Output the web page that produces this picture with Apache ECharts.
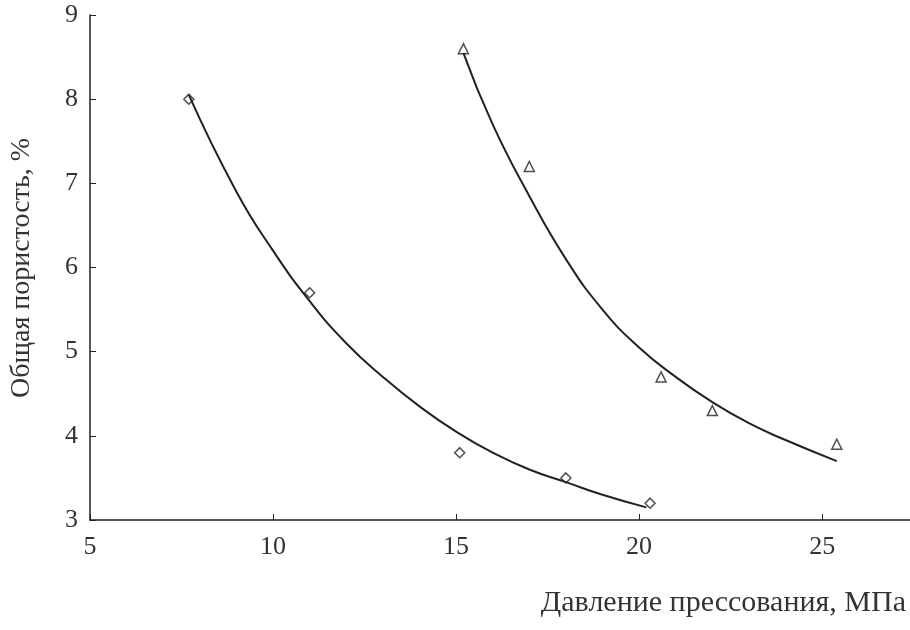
<!DOCTYPE html>
<html>
<head>
<meta charset="utf-8">
<script src="https://cdn.jsdelivr.net/npm/echarts@6/dist/echarts.min.js"></script>
</head>
<body style="margin:0;background:#fff">
<div id="chart" style="width:910px;height:630px"></div>
<script>
// measured points
var pointsA = [[7.7, 8.0], [11.0, 5.7], [15.1, 3.8], [18.0, 3.5], [20.3, 3.2]];
var pointsB = [[15.2, 8.6], [17.0, 7.2], [20.6, 4.7], [22.0, 4.3], [25.4, 3.9]];
// trend curves
var curveA = [[7.7, 8.05], [9, 6.9], [10, 6.2], [11, 5.6], [12, 5.1], [13, 4.7], [14, 4.35],
	[15, 4.05], [16, 3.8], [17, 3.6], [18, 3.45], [19, 3.3], [20.2, 3.15]];
var curveB = [[15.2, 8.55], [16, 7.7], [17, 6.85], [18, 6.1], [19, 5.5], [20, 5.05], [21, 4.7],
	[22, 4.4], [23, 4.15], [24, 3.95], [25.4, 3.7]];
var xTicks = [5, 10, 15, 20, 25];

var chart = echarts.init(document.getElementById('chart'));
var font = '"Liberation Serif", "DejaVu Serif", serif';
var axisCommon = {
	axisLine : { lineStyle : { color : '#222', width : 1.5 } },
	axisTick : { inside : true, length : 6, lineStyle : { color : '#222' } },
	axisLabel : { color : '#333', fontFamily : font, fontSize : 26 },
	splitLine : { show : false }
};
var marker = function(sym) {
	return { symbol : sym, symbolSize : 10, itemStyle : { color : '#fff', borderColor : '#222', borderWidth : 1.5 } };
};
chart.setOption({
	animation : false,
	grid : { left : 90, right : 0, top : 15, bottom : 110 },
	xAxis : Object.assign({}, axisCommon, {
		type : 'value', min : 5, max : 27.4, interval : 5,
		axisLabel : Object.assign({}, axisCommon.axisLabel, { showMaxLabel : false, margin : 14,
			formatter : function(v) { return xTicks.indexOf(v) >= 0 ? v : ''; } })
	}),
	yAxis : Object.assign({}, axisCommon, {
		type : 'value', min : 3, max : 9, interval : 1,
		axisLabel : Object.assign({}, axisCommon.axisLabel, { margin : 12 })
	}),
	graphic : [
		{ type : 'text', x : 8, y : 268, rotation : Math.PI / 2,
			style : { text : 'Общая пористость, %', font : '28px ' + font, fill : '#333',
				align : 'center', verticalAlign : 'top' } },
		{ type : 'text', right : 4, top : 588,
			style : { text : 'Давление прессования, МПа', font : '30px ' + font, fill : '#333' } }
	],
	series : [
		{ type : 'line', data : curveA, smooth : true, showSymbol : false, lineStyle : { color : '#222', width : 2 } },
		{ type : 'line', data : curveB, smooth : true, showSymbol : false, lineStyle : { color : '#222', width : 2 } },
		Object.assign({ type : 'scatter', data : pointsA }, marker('diamond')),
		Object.assign({ type : 'scatter', data : pointsB }, marker('triangle'))
	]
});
</script>
</body>
</html>
